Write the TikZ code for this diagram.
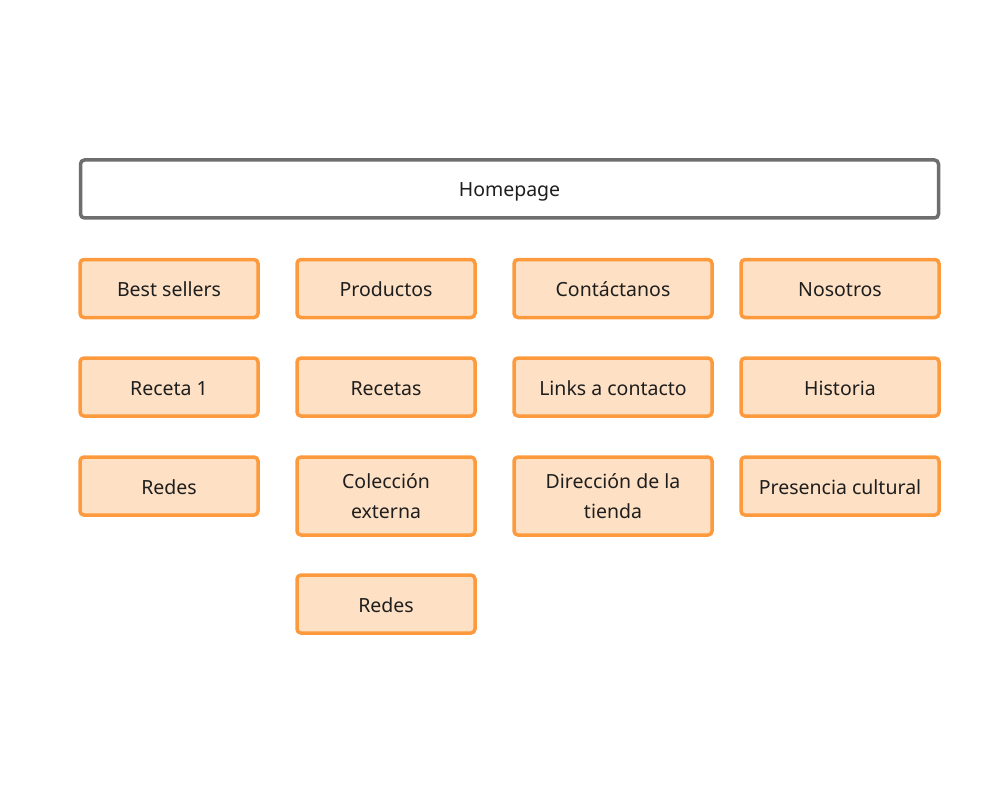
\documentclass[tikz,border=0pt]{standalone}
\usepackage{fontspec}
\setmainfont{Noto Sans}
\definecolor{boxfill}{HTML}{FEE0C4}
\definecolor{boxline}{HTML}{FD9A3E}
\definecolor{homeline}{HTML}{6E6E6E}
\definecolor{txt}{HTML}{1E1E1E}
\tikzset{
  pagebase/.style={draw=boxline, fill=boxfill, line width=3.5pt, rounded corners=4pt,
    text=txt, font=\fontsize{19.5}{30}\selectfont, align=center, inner sep=0pt},
  page/.style={pagebase, text height=16pt, text depth=0pt, minimum height=58pt},
  twoline/.style={pagebase, minimum height=78pt},
  home/.style={draw=homeline, fill=white, line width=3.5pt, rounded corners=4pt,
    text=txt, font=\fontsize{19.5}{30}\selectfont, inner sep=0pt,
    text height=16pt, text depth=0pt}
}
\begin{document}
\begin{tikzpicture}[x=1pt,y=-1pt]
\useasboundingbox (0,0) rectangle (1000,794);
\node[home, minimum width=858pt, minimum height=58pt] (home) at (509.5,189) {Homepage};
% column 1
\node[page, minimum width=178pt] (best) at (169,288.5) {Best sellers};
\node[page, minimum width=178pt] (rec1) at (169,387) {Receta 1};
\node[page, minimum width=178pt] (redes1) at (169,486) {Redes};
% column 2
\node[page, minimum width=178pt] (prod) at (386,288.5) {Productos};
\node[page, minimum width=178pt] (recs) at (386,387) {Recetas};
\node[twoline, minimum width=178pt] (col) at (386,496) {Colección\\externa};
\node[page, minimum width=178pt] (redes2) at (386,604) {Redes};
% column 3
\node[page, minimum width=198pt] (cont) at (613,288.5) {Contáctanos};
\node[page, minimum width=198pt] (links) at (613,387) {Links a contacto};
\node[twoline, minimum width=198pt] (dir) at (613,496) {Dirección de la\\tienda};
% column 4
\node[page, minimum width=198pt] (nos) at (840,288.5) {Nosotros};
\node[page, minimum width=198pt] (hist) at (840,387) {Historia};
\node[page, minimum width=198pt] (pres) at (840,486) {Presencia cultural};
\end{tikzpicture}
\end{document}
